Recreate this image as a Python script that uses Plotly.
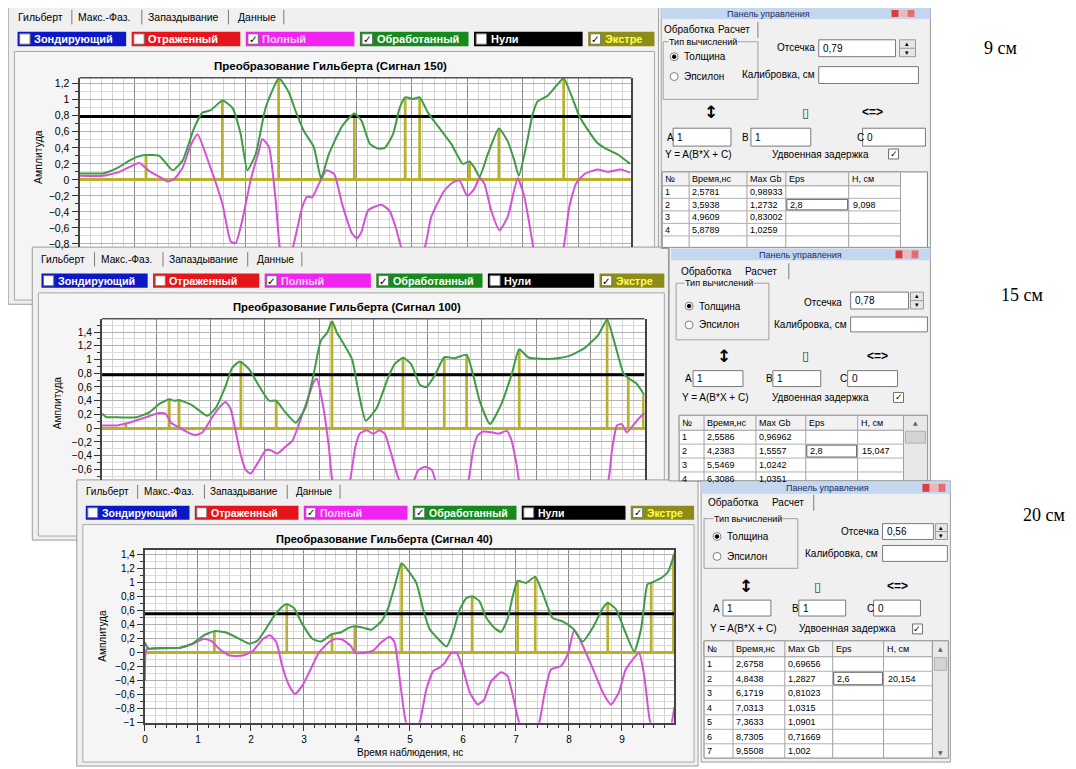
import plotly.graph_objects as go

# The page body has an 8px margin, so every pixel position below is shifted by OFF.
W, H, OFF = 1076, 769, 8

# ============================ DATA ============================
TAB_NAMES = ["Гильберт", "Макс.-Фаз.", "Запаздывание", "Данные"]
LEGEND_NAMES = ["Зондирующий", "Отраженный", "Полный", "Обработанный", "Нули", "Экстре"]
LEGEND_CHECKED = [False, False, True, True, False, True]
CHART_TITLES = ["Преобразование Гильберта (Сигнал 150)",
                "Преобразование Гильберта (Сигнал 100)",
                "Преобразование Гильберта (Сигнал 40)"]
Y_TITLE = "Амплитуда"
X_TITLE = "Время наблюдения, нс"
THRESHOLDS = [0.79, 0.78, 0.56]
DEPTH_LABELS = ["9 см", "15 см", "20 см"]
ABC_VALUES = ["1", "1", "0"]
TABLE_HEAD = ["№", "Время,нс", "Max Gb", "Eps", "H, см"]

# Control panel tables
T1_TIME = [2.5781, 3.5938, 4.9609, 5.8789]
T1_GB = [0.98933, 1.2732, 0.83002, 1.0259]
T2_TIME = [2.5586, 4.2383, 5.5469, 6.3086]
T2_GB = [0.96962, 1.5557, 1.0242, 1.0351]
T3_TIME = [2.6758, 4.8438, 6.1719, 7.0313, 7.3633, 8.7305, 9.5508]
T3_GB = [0.69656, 1.2827, 0.81023, 1.0315, 1.0901, 0.71669, 1.002]
EPS = [2.8, 2.8, 2.6]
H_CM = [9.098, 15.047, 20.154]

# Chart 1 (signal 150)
G1_X = [0, 0.2, 0.42, 0.66, 0.9, 1.05, 1.2, 1.44, 1.68, 1.86, 2.07, 2.22, 2.37, 2.58, 2.76, 2.91, 3.03,
        3.18, 3.36, 3.6, 3.78, 3.9, 4.05, 4.23, 4.36, 4.5, 4.74, 4.96, 5.09, 5.24, 5.39, 5.51, 5.66, 5.78,
        5.88, 6.02, 6.14, 6.29, 6.47, 6.71, 6.92, 7.04, 7.13, 7.22, 7.37, 7.57, 7.73, 7.85, 7.93, 8.06,
        8.18, 8.27, 8.45, 8.6, 8.74, 8.87, 9.02, 9.17, 9.35, 9.5, 9.71, 9.94]
G1_Y = [0.08, 0.08, 0.08, 0.14, 0.24, 0.29, 0.31, 0.30, 0.12, 0.24, 0.65, 0.84, 0.87, 0.99, 0.9, 0.57, 0.12,
        0.32, 0.9, 1.27, 1.09, 0.86, 0.61, 0.41, 0.02, 0.32, 0.67, 0.83, 0.74, 0.45, 0.39, 0.40, 0.57, 0.9,
        1.03, 1.01, 1.03, 0.84, 0.67, 0.45, 0.2, 0.23, 0.15, 0.04, 0.32, 0.64, 0.48, 0.24, 0.05, 0.41,
        0.82, 0.98, 1.05, 1.17, 1.27, 1.07, 0.80, 0.63, 0.46, 0.39, 0.32, 0.2]
M1_X = [0, 0.42, 0.72, 0.9, 1.08, 1.26, 1.44, 1.59, 1.71, 1.86, 2.0, 2.13, 2.34, 2.58, 2.73, 2.82, 2.94,
        3.09, 3.24, 3.30, 3.42, 3.54, 3.63, 3.73, 3.84, 4.02, 4.11, 4.2, 4.32, 4.46, 4.6, 4.74, 4.92, 5.01,
        5.09, 5.21, 5.45, 5.6, 5.72, 5.81, 6.0, 6.23, 6.35, 6.59, 6.74, 6.86, 7.0, 7.13, 7.22, 7.31, 7.43,
        7.58, 7.73, 7.91, 8.03, 8.15, 8.21, 8.45, 8.72, 8.84, 8.96, 9.11, 9.35, 9.53, 9.77, 9.94]
M1_Y = [0.05, 0.05, 0.1, 0.16, 0.21, 0.11, 0.04, -0.02, 0.01, 0.15, 0.42, 0.57, 0.2, -0.3, -0.77, -0.79, -0.5,
        0.0, 0.37, 0.51, 0.41, -0.25, -0.9, -1.0, -0.87, -0.34, -0.21, -0.22, -0.05, 0.12, 0.07, -0.3,
        -0.67, -0.73, -0.65, -0.38, -0.31, -0.39, -0.62, -0.85, -1.1, -0.85, -0.46, -0.13, -0.03, -0.01,
        -0.2, -0.11, 0.03, -0.05, -0.38, -0.63, -0.46, 0.02, -0.21, -0.67, -0.9, -1.2, -0.9, -0.34, -0.05,
        0.07, 0.13, 0.1, 0.13, 0.09]
S1_X = [1.20, 2.5781, 3.5938, 4.9609, 5.8789, 6.14, 7.04, 7.57, 8.74]
S1_Y = [0.31, 0.98933, 1.2732, 0.83002, 1.0259, 1.03, 0.23, 0.64, 1.27]

# Chart 2 (signal 100)
G2_X = [0, 0.08, 0.2, 0.63, 0.87, 1.05, 1.24, 1.33, 1.42, 1.67, 1.94, 2.1, 2.28, 2.4, 2.54, 2.71, 2.89,
        3.08, 3.21, 3.38, 3.57, 3.75, 3.9, 4.03, 4.15, 4.24, 4.33, 4.46, 4.61, 4.73, 4.86, 5.06, 5.27,
        5.39, 5.55, 5.70, 5.86, 5.98, 6.14, 6.31, 6.50, 6.72, 6.84, 6.96, 7.15, 7.36, 7.55, 7.69, 7.86,
        8.29, 8.6, 8.9, 9.15, 9.31, 9.46, 9.61, 9.7, 9.85, 10.0]
G2_Y = [0.21, 0.16, 0.16, 0.16, 0.23, 0.35, 0.42, 0.40, 0.41, 0.33, 0.18, 0.3, 0.62, 0.88, 0.97, 0.86, 0.62,
        0.40, 0.4, 0.23, 0.08, 0.3, 0.78, 1.27, 1.39, 1.5557, 1.39, 1.22, 1.0, 0.52, 0.11, 0.29, 0.73,
        0.93, 1.0242, 0.93, 0.63, 0.60, 0.78, 1.0351, 1.02, 1.07, 0.78, 0.40, 0.06, 0.35, 0.78, 1.15, 1.03,
        1.01, 1.05, 1.17, 1.36, 1.58, 1.21, 0.80, 0.73, 0.65, 0.48]
M2_X = [0, 0.26, 0.5, 0.81, 1.05, 1.17, 1.27, 1.42, 1.58, 1.73, 1.85, 2.03, 2.16, 2.28, 2.37, 2.46, 2.55,
        2.65, 2.74, 2.86, 3.02, 3.11, 3.23, 3.38, 3.51, 3.63, 3.78, 3.9, 3.96, 4.08, 4.18, 4.26, 4.4, 4.55,
        4.67, 4.75, 4.88, 5.0, 5.11, 5.21, 5.33, 5.45, 5.55, 5.64, 5.73, 5.83, 5.95, 6.08, 6.18, 6.45,
        6.73, 6.84, 6.92, 7.02, 7.18, 7.31, 7.46, 7.55, 7.64, 7.72, 8.5, 9.3, 9.4, 9.49, 9.58, 9.67, 9.79,
        9.88, 10.0]
M2_Y = [0.04, 0.04, 0.08, 0.16, 0.22, 0.21, 0.08, 0.01, -0.06, -0.10, -0.06, 0.16, 0.30, 0.38, 0.28, -0.03,
        -0.37, -0.61, -0.66, -0.52, -0.32, -0.32, -0.37, -0.27, -0.18, 0.06, 0.40, 0.67, 0.72, 0.30, -0.27,
        -0.85, -1.1, -0.85, -0.27, -0.08, -0.03, -0.08, -0.03, -0.08, -0.37, -0.70, -0.85, -0.95, -0.8,
        -0.61, -0.56, -0.61, -0.85, -1.2, -0.85, -0.32, -0.11, -0.05, -0.06, -0.08, -0.04, -0.18, -0.52,
        -0.85, -1.3, -0.85, -0.32, 0.04, 0.06, -0.06, 0.04, 0.13, 0.22]
S2_X = [0.44, 1.24, 1.42, 2.5586, 3.21, 4.2383, 5.5469, 6.3086, 6.72, 7.69, 9.31, 9.7, 9.98]
S2_Y = [0.08, 0.42, 0.41, 0.96962, 0.4, 1.5557, 1.0242, 1.0351, 1.07, 1.15, 1.58, 0.74, 0.48]

# Chart 3 (signal 40)
G3_X = [0, 0.04, 0.08, 0.27, 0.65, 0.9, 1.09, 1.31, 1.53, 1.78, 1.97, 2.12, 2.28, 2.44, 2.59, 2.6758, 2.81,
        2.97, 3.16, 3.32, 3.44, 3.53, 3.69, 3.85, 3.96, 4.11, 4.27, 4.46, 4.58, 4.71, 4.8438, 5.0, 5.12,
        5.25, 5.37, 5.53, 5.69, 5.81, 5.94, 6.06, 6.1719, 6.31, 6.44, 6.59, 6.72, 6.84, 6.94, 7.0313, 7.19,
        7.3633, 7.5, 7.69, 7.88, 8.07, 8.26, 8.45, 8.64, 8.7305, 8.89, 9.04, 9.23, 9.36, 9.48, 9.5508,
        9.74, 9.87, 9.99]
G3_Y = [0.15, 0.08, 0.06, 0.07, 0.07, 0.13, 0.24, 0.31, 0.29, 0.2, 0.13, 0.17, 0.34, 0.53, 0.66, 0.69656,
        0.64, 0.41, 0.2, 0.16, 0.22, 0.27, 0.29, 0.36, 0.38, 0.36, 0.33, 0.45, 0.62, 0.95, 1.2827, 1.14,
        1.0, 0.62, 0.34, 0.2, 0.09, 0.29, 0.62, 0.78, 0.81023, 0.74, 0.50, 0.36, 0.30, 0.48, 0.81, 1.0315,
        1.0, 1.0901, 0.86, 0.50, 0.45, 0.35, 0.16, 0.36, 0.64, 0.71669, 0.62, 0.34, 0.02, 0.34, 0.98,
        1.002, 1.07, 1.16, 1.42]
M3_X = [0, 0.03, 0.14, 0.65, 0.9, 1.12, 1.25, 1.41, 1.6, 1.85, 2.04, 2.23, 2.36, 2.48, 2.59, 2.72, 2.83,
        2.97, 3.13, 3.28, 3.47, 3.6, 3.72, 3.88, 3.97, 4.14, 4.3, 4.46, 4.62, 4.71, 4.8, 4.9, 5.0, 5.18,
        5.31, 5.44, 5.56, 5.66, 5.78, 5.88, 6.0, 6.13, 6.28, 6.4, 6.53, 6.72, 6.84, 6.97, 7.06, 7.25,
        7.44, 7.53, 7.66, 7.85, 7.98, 8.1, 8.23, 8.35, 8.48, 8.64, 8.79, 8.94, 9.07, 9.2, 9.32, 9.42,
        9.51, 9.6, 9.8, 9.9, 9.99]
M3_Y = [-0.4, 0.05, 0.06, 0.07, 0.13, 0.2, 0.17, 0.05, -0.04, -0.04, 0.03, 0.2, 0.25, 0.15, -0.19, -0.47,
        -0.59, -0.47, -0.23, 0.0, 0.15, 0.2, 0.19, 0.1, 0.0, 0.0, 0.03, 0.15, 0.23, 0.15, -0.33, -0.9,
        -1.2, -1.0, -0.52, -0.26, -0.21, -0.14, 0.0, 0.0, -0.23, -0.57, -0.74, -0.67, -0.41, -0.28, -0.33,
        -0.71, -1.0, -1.3, -1.0, -0.62, -0.24, -0.19, -0.02, 0.33, 0.15, -0.05, -0.28, -0.57, -0.74,
        -0.57, -0.24, -0.1, 0.0, -0.33, -0.9, -1.2, -1.3, -1.15, -0.77]
S3_X = [1.31, 2.6758, 3.53, 3.96, 4.8438, 6.1719, 7.0313, 7.3633, 8.7305, 9.5508, 9.97]
S3_Y = [0.31, 0.69656, 0.27, 0.38, 1.2827, 0.81023, 1.0315, 1.0901, 0.71669, 1.002, 1.40]

# ============================ STYLE ============================
UI = "Liberation Sans"
GREEN = "#3e9c46"
MAGENTA = "#d651d6"
OLIVE = "#b9b12a"
WIN_BG = "#f0f0f0"
FRAME_BG = "#f5f5f5"
LEG_BG = ["#0c18c4", "#e4161c", "#f024f0", "#178a1e", "#000000", "#8e8c18"]
LEG_FG = ["#ffffff", "#ffffff", "#ffd6ff", "#ffffff", "#ffffff", "#ffff50"]

shapes, annots = [], []


def fx(x):
    return (x - OFF) / W


def fy(y):
    return 1 - (y - OFF) / H


def rect(x0, y0, x1, y1, fill="rgba(0,0,0,0)", line=None, lw=1, layer="below"):
    shapes.append(dict(type="rect", xref="paper", yref="paper", x0=fx(x0), x1=fx(x1),
                       y0=fy(y1), y1=fy(y0), fillcolor=fill, layer=layer,
                       line=dict(color=line if line else "rgba(0,0,0,0)", width=lw if line else 0)))


def seg(x0, y0, x1, y1, color="#808080", lw=1, layer="below"):
    shapes.append(dict(type="line", xref="paper", yref="paper", x0=fx(x0), x1=fx(x1),
                       y0=fy(y0), y1=fy(y1), line=dict(color=color, width=lw), layer=layer))


def circ(cx, cy, r, fill="white", line="#808080"):
    shapes.append(dict(type="circle", xref="paper", yref="paper", x0=fx(cx - r), x1=fx(cx + r),
                       y0=fy(cy + r), y1=fy(cy - r), fillcolor=fill,
                       line=dict(color=line, width=1), layer="below"))


def txt(x, y, s, size=10, color="black", xa="left", bold=False, family=UI, angle=0, bg=None):
    if bold:
        s = "<b>" + s + "</b>"
    a = dict(x=fx(x), y=fy(y), xref="paper", yref="paper", text=s, showarrow=False,
             xanchor=xa, yanchor="middle", textangle=angle, borderpad=0,
             font=dict(size=size, color=color, family=family))
    if bg:
        a["bgcolor"] = bg
    annots.append(a)


def num(v):
    return str(v).replace(".", ",")


# ---------------- chart windows ----------------
WINDOWS = [dict(ox=8.3, oy=5.7, s=1.047), dict(ox=32.4, oy=249.7, s=1.024), dict(ox=77.0, oy=484.0, s=1.0)]
PLOTS = [dict(x0=76.7, x1=630.0, y0=78.3, y1=248.7),
         dict(x0=99.3, x1=643.3, y0=320.7, y1=483.0),
         dict(x0=142.3, x1=673.3, y0=553.3, y1=727.3)]
YT_POS = [(35, 158), (55, 405), (100, 640)]


def chart_window(k):
    w = WINDOWS[k]
    ox, oy, s = w["ox"], w["oy"], w["s"]
    L = lambda v: ox + v * s
    T = lambda v: oy + v * s
    rect(L(-3), T(-1), L(620), T(287), fill=WIN_BG, line="#9a9a9a")
    for name, tx in zip(TAB_NAMES, [5, 63, 130, 216]):
        txt(L(tx), T(11), name, size=10 * s)
    for sx in [58, 125, 208, 261]:
        seg(L(sx), T(4), L(sx), T(18), "#7a7a7a", 1)
    for i, name in enumerate(LEGEND_NAMES):
        bx0 = L(6 + i * 109.3)
        bx1 = min(bx0 + 104 * s, L(616))
        rect(bx0, T(25), bx1, T(39), fill=LEG_BG[i])
        rect(bx0 + 2 * s, T(27), bx0 + 12 * s, T(37), fill="white", line="#707070")
        if LEGEND_CHECKED[i]:
            txt(bx0 + 7 * s, T(32), "✓", size=10 * s, xa="center", bold=True, family="DejaVu Sans")
        txt(bx0 + 15 * s, T(32), name, size=10.5 * s, color=LEG_FG[i], bold=True)
    rect(L(3), T(44), L(616), T(283), fill=FRAME_BG, line="#a8a8a8")
    txt(L(305.5), T(58), CHART_TITLES[k], size=11 * s, bold=True, xa="center")
    p = PLOTS[k]
    rect(p["x0"], p["y0"], p["x1"], p["y1"], fill="white")
    if k < 2:
        seg(p["x0"], p["y0"], p["x1"], p["y0"], "#555555", 1.5, layer="above")
    ytx, yty = YT_POS[k]
    txt(ytx, yty, Y_TITLE, size=10 * s, angle=-90, xa="center")


for k in range(3):
    chart_window(k)
txt(408, 757, X_TITLE, size=10, xa="center")

# ---------------- control panels ----------------
PANELS = [
    dict(frame=(660, 7, 930, 250), tb=(660, 8, 930, 19), tb_cx=768, btn=891,
         tabs_y=30, tab1=688, tab2=733, tabdiv=757,
         grp=(662, 42, 757, 100), grp_lx=667, rad_x=673, rad_y=(57, 77),
         ots_rx=815, ots_y=48, ots_box=(818, 40, 895, 57), spin=(899, 915),
         kal_rx=815, kal_y=75, kal_box=(818, 67, 918, 84),
         icon_y=113, icon_x=(710, 805, 872),
         abc_y=138, abc_lx=(665, 740, 855), abc_bx=((672, 730), (750, 810), (862, 925)), abc_by=(129, 147),
         yrow_y=155, yrow_x=663, ud_x=770, ud_chk=888,
         cols=(661, 688, 746, 785, 848, 900, 927), ttop=173, thh=14, trh=12.6, tbot=249, scroll=False),
    dict(frame=(668, 249, 930, 484), tb=(670, 250, 930, 262), tb_cx=800, btn=895,
         tabs_y=273, tab1=705, tab2=760, tabdiv=788,
         grp=(675, 285, 768, 342), grp_lx=683, rad_x=688, rad_y=(308, 327),
         ots_rx=842, ots_y=304, ots_box=(850, 294, 908, 311), spin=(910, 923),
         kal_rx=847, kal_y=327, kal_box=(850, 319, 927, 334),
         icon_y=358, icon_x=(723, 805, 877),
         abc_y=381, abc_lx=(683, 764, 838), abc_bx=((692, 742), (772, 820), (847, 897)), abc_by=(373, 389),
         yrow_y=400, yrow_x=680, ud_x=770, ud_chk=893,
         cols=(678, 703, 755, 805, 857, 903, 927), ttop=418, thh=15, trh=14, tbot=484, scroll=True),
    dict(frame=(700, 484, 950, 767), tb=(700, 485, 950, 497), tb_cx=827, btn=922,
         tabs_y=506, tab1=733, tab2=787, tabdiv=813,
         grp=(703, 522, 797, 572), grp_lx=712, rad_x=716, rad_y=(540, 560),
         ots_rx=879, ots_y=535, ots_box=(882, 527, 933, 543), spin=(935, 947),
         kal_rx=878, kal_y=557, kal_box=(882, 549, 947, 565),
         icon_y=590, icon_x=(745, 817, 897),
         abc_y=612, abc_lx=(711, 790, 865), abc_bx=((722, 770), (798, 845), (873, 920)), abc_by=(604, 620),
         yrow_y=633, yrow_x=708, ud_x=797, ud_chk=912,
         cols=(703, 732, 784, 832, 883, 932, 948), ttop=645, thh=16, trh=14.6, tbot=763, scroll=True),
]
TABLES = [(T1_TIME, T1_GB), (T2_TIME, T2_GB), (T3_TIME, T3_GB)]


def ctrl_panel(k):
    p = PANELS[k]
    x0, y0, x1, y1 = p["frame"]
    rect(x0, y0, x1, y1, fill=WIN_BG, line="#9a9a9a")
    tx0, ty0, tx1, ty1 = p["tb"]
    rect(tx0, ty0, tx1, ty1, fill="#c3d7ee")
    txt(p["tb_cx"], (ty0 + ty1) / 2 + 0.5, "Панель управления", size=9, color="#1a2a66", xa="center")
    for j, col in enumerate(["#e03a3a", "#f2b4b4", "#e86c6c"]):
        rect(p["btn"] + j * 8, ty0 + 2, p["btn"] + j * 8 + 7, ty1 - 2, fill=col)
    txt(p["tab1"], p["tabs_y"], "Обработка", size=10, xa="center")
    txt(p["tab2"], p["tabs_y"], "Расчет", size=10, xa="center")
    seg(p["tabdiv"], p["tabs_y"] - 8, p["tabdiv"], p["tabs_y"] + 8, "#7a7a7a")
    gx0, gy0, gx1, gy1 = p["grp"]
    rect(gx0, gy0, gx1, gy1, line="#a0a0a0")
    txt(p["grp_lx"], gy0, "Тип вычислений", size=9, bg=WIN_BG)
    ry1, ry2 = p["rad_y"]
    circ(p["rad_x"], ry1, 4)
    circ(p["rad_x"], ry1, 1.8, fill="black", line="black")
    circ(p["rad_x"], ry2, 4)
    txt(p["rad_x"] + 9, ry1, "Толщина", size=10)
    txt(p["rad_x"] + 9, ry2, "Эпсилон", size=10)
    txt(p["ots_rx"], p["ots_y"], "Отсечка", size=10, xa="right")
    bx0, by0, bx1, by1 = p["ots_box"]
    rect(bx0, by0, bx1, by1, fill="white", line="#7a7a7a")
    txt(bx0 + 3, (by0 + by1) / 2, num(THRESHOLDS[k]), size=10)
    sx0, sx1 = p["spin"]
    rect(sx0, by0, sx1, by1, fill="#e6e6e6", line="#9a9a9a")
    seg(sx0, (by0 + by1) / 2, sx1, (by0 + by1) / 2, "#9a9a9a")
    txt((sx0 + sx1) / 2, by0 + 4, "▴", size=7, xa="center", family="DejaVu Sans")
    txt((sx0 + sx1) / 2, by1 - 4, "▾", size=7, xa="center", family="DejaVu Sans")
    txt(p["kal_rx"], p["kal_y"], "Калибровка, см", size=10, xa="right")
    kx0, ky0, kx1, ky1 = p["kal_box"]
    rect(kx0, ky0, kx1, ky1, fill="white", line="#7a7a7a")
    ix = p["icon_x"]
    txt(ix[0], p["icon_y"], "↕", size=17, bold=True, xa="center", family="DejaVu Sans")
    txt(ix[1], p["icon_y"], "▯", size=13, xa="center", family="DejaVu Sans", color="#404040")
    txt(ix[2], p["icon_y"], "&lt;=&gt;", size=12, bold=True, xa="center")
    for lab, lx, (ax0, ax1), val in zip(["A", "B", "C"], p["abc_lx"], p["abc_bx"], ABC_VALUES):
        txt(lx, p["abc_y"], lab, size=10)
        ay0, ay1 = p["abc_by"]
        rect(ax0, ay0, ax1, ay1, fill="white", line="#7a7a7a")
        txt(ax0 + 3, (ay0 + ay1) / 2, val, size=10)
    txt(p["yrow_x"], p["yrow_y"], "Y = A(B*X + C)", size=10)
    txt(p["ud_x"], p["yrow_y"], "Удвоенная задержка", size=10)
    cx = p["ud_chk"]
    rect(cx, p["yrow_y"] - 5, cx + 10, p["yrow_y"] + 5, fill="white", line="#707070")
    txt(cx + 5, p["yrow_y"], "✓", size=9, xa="center", bold=True, family="DejaVu Sans")
    # table
    cols, top, hh, rh, bot = p["cols"], p["ttop"], p["thh"], p["trh"], p["tbot"]
    rect(cols[0], top, cols[-1], bot, fill="white", line="#808080")
    rect(cols[0], top, cols[-2], top + hh, fill="#f2f2f2", line="#9a9a9a")
    if p["scroll"]:
        rect(cols[-2], top, cols[-1], bot, fill="#e8e8e8", line="#9a9a9a")
        txt((cols[-2] + cols[-1]) / 2, top + hh / 2, "▲", size=6, xa="center", family="DejaVu Sans",
            color="#606060")
        rect(cols[-2] + 2, top + hh + 1, cols[-1] - 2, top + hh + rh - 1, fill="#d4d4d4", line="#b0b0b0")
        if k == 2:
            txt((cols[-2] + cols[-1]) / 2, bot - 6, "▼", size=6, xa="center", family="DejaVu Sans",
                color="#606060")
    for c in cols[1:-1]:
        seg(c, top, c, bot, "#a0a0a0")
    r = 1
    while top + hh + rh * r < bot:
        seg(cols[0], top + hh + rh * r, cols[-2], top + hh + rh * r, "#b0b0b0")
        r += 1
    for j, hname in enumerate(TABLE_HEAD):
        txt(cols[j] + 2, top + hh / 2, hname, size=9)
    times, gbs = TABLES[k]
    for i, (t, g) in enumerate(zip(times, gbs)):
        yc = top + hh + rh * (i + 0.5)
        if yc > bot:
            break
        txt(cols[0] + 2, yc, str(i + 1), size=9)
        txt(cols[1] + 2, yc, num(t), size=9)
        txt(cols[2] + 2, yc, num(g), size=9)
        if i == 1:
            rect(cols[3] + 1, yc - rh / 2 + 1, cols[4] - 1, yc + rh / 2 - 1, line="#606060")
            txt(cols[3] + 3, yc, num(EPS[k]), size=9)
            txt(cols[4] + 3, yc, num(H_CM[k]), size=9)


for k in range(3):
    ctrl_panel(k)

for lab, (lx, ly) in zip(DEPTH_LABELS, [(1000, 48), (1022, 297), (1044, 518)]):
    txt(lx, ly, lab, size=18, xa="center", family="Liberation Serif")

# ---------------- figure ----------------
fig = go.Figure()
series = [(G1_X, G1_Y, M1_X, M1_Y, S1_X, S1_Y),
          (G2_X, G2_Y, M2_X, M2_Y, S2_X, S2_Y),
          (G3_X, G3_Y, M3_X, M3_Y, S3_X, S3_Y)]
X_RANGES = [[0, 9.96], [0, 10.0], [0, 9.99]]
Y_RANGES = [[-0.84, 1.274], [-0.753, 1.595], [-1.0001, 1.475]]

layout_axes = {}
for k, (gx, gy, mx, my, sx, sy) in enumerate(series):
    xa = "x" if k == 0 else f"x{k + 1}"
    ya = "y" if k == 0 else f"y{k + 1}"
    fig.add_trace(go.Bar(x=sx, y=sy, width=0.05, marker=dict(color=OLIVE, line=dict(width=0)),
                         xaxis=xa, yaxis=ya, hoverinfo="skip", showlegend=False))
    # threshold ("Отсечка") line across the whole plot
    fig.add_trace(go.Scatter(x=X_RANGES[k], y=[THRESHOLDS[k]] * 2, mode="lines", xaxis=xa, yaxis=ya,
                             hoverinfo="skip", line=dict(color="black", width=3), showlegend=False))
    fig.add_trace(go.Scatter(x=mx, y=my, mode="lines", xaxis=xa, yaxis=ya, hoverinfo="skip",
                             line=dict(color=MAGENTA, width=2, shape="spline", smoothing=0.5),
                             showlegend=False))
    fig.add_trace(go.Scatter(x=gx, y=gy, mode="lines", xaxis=xa, yaxis=ya, hoverinfo="skip",
                             line=dict(color=GREEN, width=2, shape="spline", smoothing=0.5),
                             showlegend=False))
    p = PLOTS[k]
    s = WINDOWS[k]["s"]
    last = (k == 2)
    layout_axes["xaxis" if k == 0 else f"xaxis{k + 1}"] = dict(
        domain=[fx(p["x0"]), fx(p["x1"])], range=X_RANGES[k], anchor=ya,
        tick0=0, dtick=1, showgrid=True, gridcolor="#8a8a8a", gridwidth=1,
        minor=dict(dtick=0.2, showgrid=True, gridcolor="#d3d3d3", gridwidth=1,
                   ticks="outside" if last else "", ticklen=3, tickcolor="#333333"),
        ticks="outside" if last else "", ticklen=6, tickcolor="#333333",
        showline=last, linecolor="#444444", linewidth=2, mirror=last, zeroline=False,
        showticklabels=last, tickfont=dict(size=10, color="black", family=UI), fixedrange=True)
    layout_axes["yaxis" if k == 0 else f"yaxis{k + 1}"] = dict(
        domain=[fy(p["y1"]), fy(p["y0"])], range=Y_RANGES[k], anchor=xa,
        tick0=0, dtick=0.2, showgrid=True, gridcolor="#b2b2b2", gridwidth=1,
        minor=dict(dtick=0.1, showgrid=True, gridcolor="#dcdcdc", gridwidth=1,
                   ticks="outside", ticklen=3, tickcolor="#333333"),
        ticks="outside", ticklen=6, tickcolor="#333333",
        showline=True, linecolor="#444444", linewidth=2, mirror=True,
        zeroline=True, zerolinecolor=OLIVE, zerolinewidth=3,
        tickfont=dict(size=10 * s, color="black", family=UI), fixedrange=True)

fig.update_layout(
    width=W, height=H, autosize=False, margin=dict(l=0, r=0, t=0, b=0),
    paper_bgcolor="white", plot_bgcolor="white", separators=", ",
    font=dict(family=UI, size=10, color="black"), showlegend=False, barmode="overlay",
    shapes=shapes, annotations=annots, **layout_axes)

fig.write_html("out.html")
